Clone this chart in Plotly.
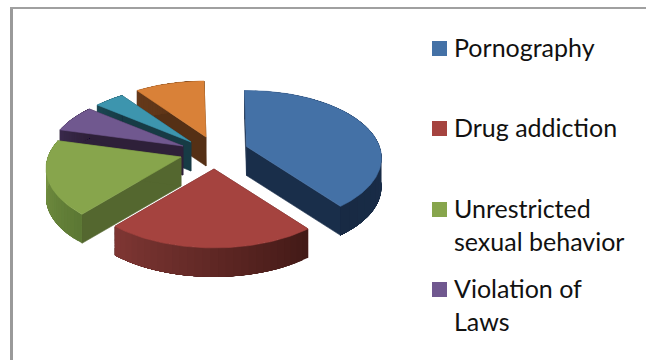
import math
import plotly.graph_objects as go

# Share of each cause, in percent
categories = ["Pornography", "Drug addiction", "Unrestricted sexual behavior",
              "Violation of Laws", "Other causes A", "Other causes B"]
shares = [39.8, 21.7, 17.94, 6.6, 4.2, 9.76]
legend_labels = ["Pornography", "Drug addiction", "Unrestricted<br>sexual behavior",
                 "Violation of<br>Laws"]

# Per-slice colours: top face, cut face, wall gradient start and end
top_colors = ["#4471a6", "#a5433f", "#87a54c", "#70588f", "#3d95ae", "#d98138"]
cut_colors = ["#192e4a", "#5a2321", "#54672f", "#2e2039", "#173b45", "#553015"]
wall_from = ["#1b3150", "#7e3633", "#7f9c48", "#3a2a4c", "#1c4854", "#65391a"]
wall_to = ["#182a44", "#431a17", "#5c7834", "#2e2039", "#173b45", "#553015"]

# Exploded tip of each wedge on the drawing surface
tips = [(246.5, 146.5), (214, 169), (181, 157), (183, 146), (191, 142), (206, 137)]

RX, RY, PERSPECTIVE, DEPTH = 133.0, 65.5, 0.17, 29.0
START_ANGLE = -1.0
PAINT_ORDER = [5, 4, 3, 2, 0, 1]
WALL_STEPS = 28


def rim(tip, degrees):
    """Project a point of the pie's rim, tilted and in perspective."""
    a = math.radians(degrees)
    x, y = math.sin(a), -math.cos(a)
    s = 1 / (1 - PERSPECTIVE * y)
    return tip[0] + RX * x * s, tip[1] + RY * y * s


def blend(c0, c1, t):
    p = [int(c0[i:i + 2], 16) for i in (1, 3, 5)]
    q = [int(c1[i:i + 2], 16) for i in (1, 3, 5)]
    return "#%02x%02x%02x" % tuple(round(a + (b - a) * t) for a, b in zip(p, q))


def face(xs, ys, color, stroke=0.6):
    return go.Scatter(x=xs + xs[:1], y=ys + ys[:1], mode="lines", fill="toself",
                      fillcolor=color, line=dict(color=color, width=stroke),
                      hoverinfo="skip", showlegend=False)


def slice_spans():
    spans, angle = [], START_ANGLE
    total = sum(shares)
    for value in shares:
        sweep = value / total * 360
        spans.append((angle, angle + sweep))
        angle += sweep
    return spans


fig = go.Figure()
spans = slice_spans()

for i in PAINT_ORDER:
    a0, a1 = spans[i]
    tip = tips[i]
    p0, p1 = rim(tip, a0), rim(tip, a1)

    # Cut faces, running straight down from the top face
    for p in (p0, p1):
        fig.add_trace(face([tip[0], p[0], p[0], tip[0]],
                           [tip[1], p[1], p[1] + DEPTH, tip[1] + DEPTH], cut_colors[i]))

    # Outer wall: each strip reaches to the wall's end and the next one paints over it,
    # so no seams show between the shades
    for k in range(WALL_STEPS):
        b0 = a0 + (a1 - a0) * k / WALL_STEPS
        top = [rim(tip, b0 + (a1 - b0) * j / 12) for j in range(13)]
        t = k / (WALL_STEPS - 1)
        if 90 < a0 < 270:
            t = 1 - t
        fig.add_trace(face([q[0] for q in top] + [q[0] for q in reversed(top)],
                           [q[1] for q in top] + [q[1] + DEPTH for q in reversed(top)],
                           blend(wall_from[i], wall_to[i], t), stroke=0))

    # Top face
    steps = max(8, int(a1 - a0))
    arc = [rim(tip, a0 + (a1 - a0) * k / steps) for k in range(steps + 1)]
    fig.add_trace(face([tip[0]] + [p[0] for p in arc],
                       [tip[1]] + [p[1] for p in arc], top_colors[i]))

# Legend rows: only the first four fit inside the frame
legend_rows = [48.5, 128.5, 209.5, 289.5]
shapes = [
    dict(type="rect", x0=10, x1=13, y0=7, y1=360, fillcolor="#9a9a9a", line_width=0, layer="below"),
    dict(type="rect", x0=10, x1=646, y0=7, y1=9, fillcolor="#a0a0a0", line_width=0, layer="below"),
]
annotations = []
for label, row, color in zip(legend_labels, legend_rows, top_colors):
    shapes.append(dict(type="rect", x0=432, x1=447, y0=row - 7.5, y1=row + 7.5,
                       fillcolor=color, line_width=0))
    annotations.append(dict(x=452, y=row - 19, xref="x", yref="y", text=label, showarrow=False,
                            xanchor="left", yanchor="top", align="left",
                            font=dict(family="Lato", size=25, color="#111111")))

fig.update_layout(
    width=646, height=360, autosize=False,
    margin=dict(l=0, r=0, t=0, b=0),
    paper_bgcolor="white", plot_bgcolor="white",
    xaxis=dict(range=[0, 646], visible=False, fixedrange=True),
    yaxis=dict(range=[360, 0], visible=False, fixedrange=True),
    shapes=shapes, annotations=annotations, showlegend=False,
)
fig.write_html("out.html")
